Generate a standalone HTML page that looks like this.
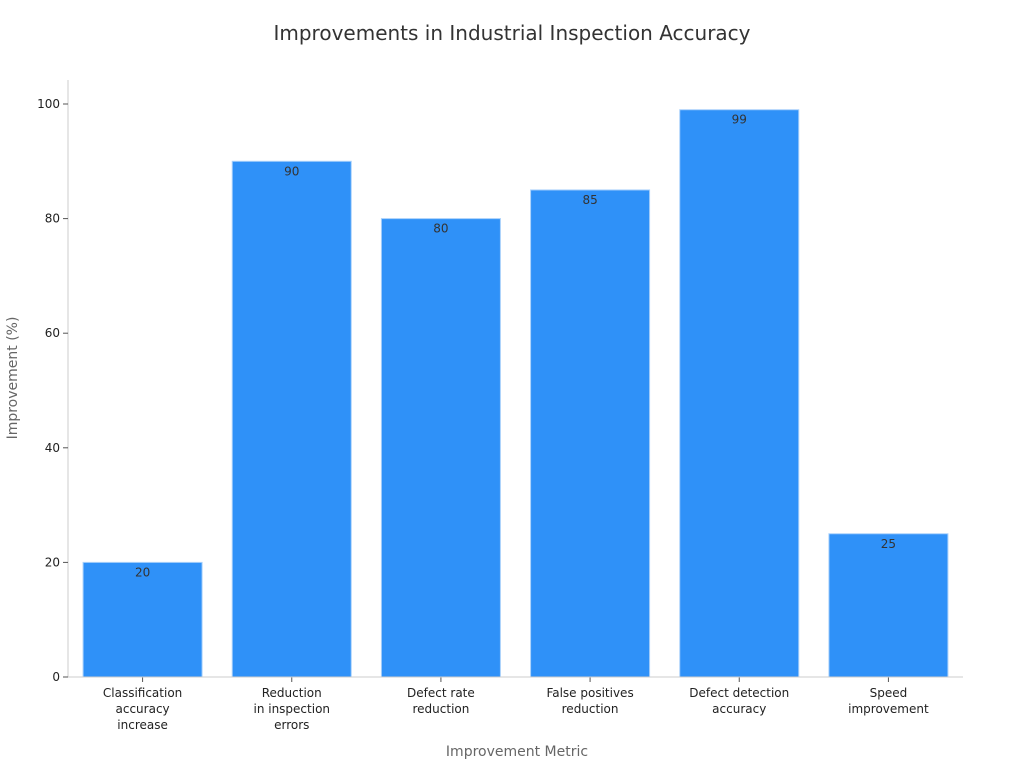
<!DOCTYPE html>
<html><head><meta charset="utf-8"><style>
body{margin:0;background:#fff;}
svg{font-family:"DejaVu Sans","Liberation Sans",sans-serif;}
</style></head><body>
<svg id="chart" width="1024" height="768">
<text x="512" y="40" text-anchor="middle" font-size="20" fill="#333">Improvements in Industrial Inspection Accuracy</text>
<g id="bars"></g>
<g id="axes"></g>
<text x="517" y="756" text-anchor="middle" font-size="14" fill="#666">Improvement Metric</text>
<text transform="translate(17,378) rotate(-90)" text-anchor="middle" font-size="14" fill="#666">Improvement (%)</text>
</svg>
<script>
const categories=[["Classification","accuracy","increase"],["Reduction","in inspection","errors"],["Defect rate","reduction"],["False positives","reduction"],["Defect detection","accuracy"],["Speed","improvement"]];
const values=[20,90,80,85,99,25];
const yTicks=[0,20,40,60,80,100];
const NS="http://www.w3.org/2000/svg";
const x0=68,x1=963,y0=677,y100=104;
const y=v=>y0+(y100-y0)*v/100;
const band=(x1-x0)/categories.length;
const xc=i=>x0+band*(i+0.5);
const bw=119;
const bars=document.getElementById('bars'),axes=document.getElementById('axes');
function mk(t,a,p){const e=document.createElementNS(NS,t);for(const k in a)e.setAttribute(k,a[k]);p.appendChild(e);return e;}
values.forEach((v,i)=>{
 const r=mk('rect',{x:xc(i)-bw/2,y:y(v),width:bw,height:y0-y(v),fill:'#2f91f8',stroke:'#a8d0fb','stroke-width':1},bars);
 
 
 const t=mk('text',{x:xc(i),y:y(v)+14,'text-anchor':'middle','font-size':12,fill:'#333'},bars);
 t.textContent=v;
 
 
 mk('line',{x1:xc(i),x2:xc(i),y1:y0,y2:y0+5,stroke:'#555'},axes);
 categories[i].forEach((ln,j)=>{
  const tl=mk('text',{x:xc(i),y:y0+20+j*16,'text-anchor':'middle','font-size':12,fill:'#222'},axes);
  tl.textContent=ln;
  
  
 });
});
const ya=mk('line',{x1:x0,x2:x0,y1:80,y2:y0,stroke:'#ccc'},axes);


const xa=mk('line',{x1:x0,x2:x1,y1:y0,y2:y0,stroke:'#ccc'},axes);


yTicks.forEach(v=>{
 mk('line',{x1:x0-5,x2:x0,y1:y(v),y2:y(v),stroke:'#555'},axes);
 const t=mk('text',{x:x0-8,y:y(v)+4,'text-anchor':'end','font-size':12,fill:'#222'},axes);
 t.textContent=v;
 
 
});
</script>
</body></html>
